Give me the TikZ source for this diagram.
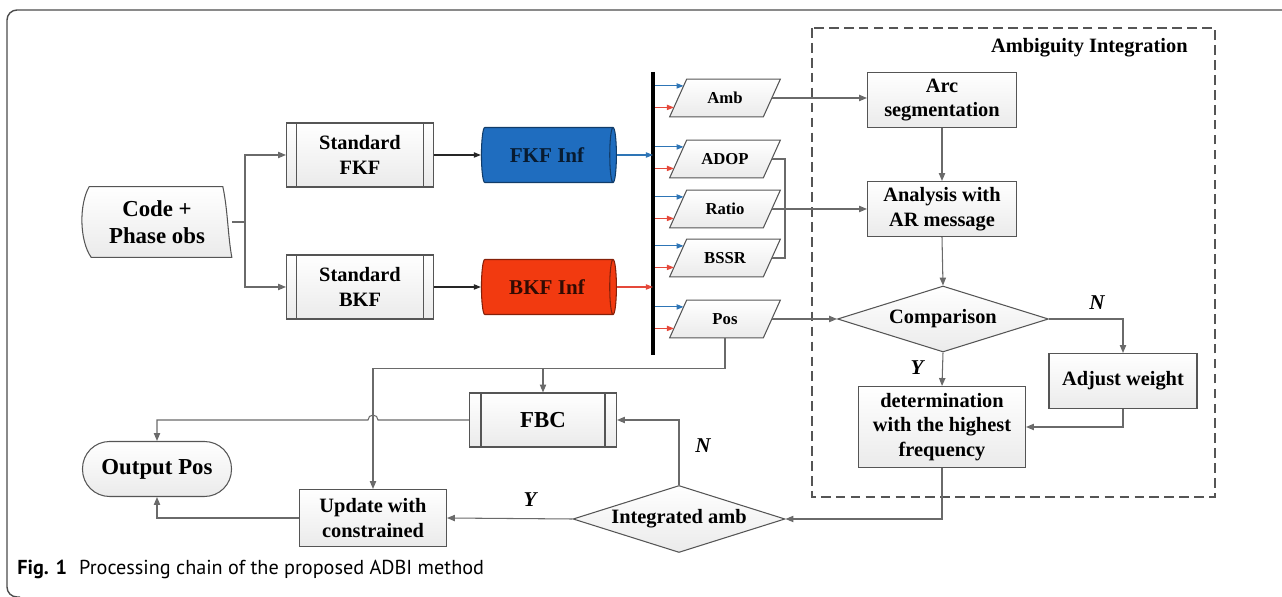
\documentclass[tikz,border=0pt]{standalone}
\usepackage{fontspec}
\setmainfont{Liberation Serif}
\newfontfamily\capfont{PT Sans}
\usetikzlibrary{shapes.geometric,arrows.meta,calc}
\pgfdeclarelayer{background}
\pgfsetlayers{background,main}
\definecolor{lc}{HTML}{6A6A6A}
\definecolor{bc}{HTML}{555555}
\definecolor{fblue}{HTML}{1F6DBF}
\definecolor{fred}{HTML}{F23A10}
\definecolor{ablue}{HTML}{2E75B6}
\definecolor{ared}{HTML}{E5483A}
\begin{document}
\begin{tikzpicture}[x=0.02cm,y=-0.02cm,
  every node/.style={font=\bfseries\fontsize{11.6}{14}\selectfont, align=center, text=black, inner sep=0pt},
  big/.style={font=\bfseries\fontsize{13}{15.5}\selectfont},
  small/.style={font=\bfseries\fontsize{9.5}{11}\selectfont},
  box/.style={draw=bc, line width=0.6pt, top color=white, bottom color=gray!16},
  predef/.style={box, path picture={
     \draw[bc, line width=0.6pt] ([xshift=#1]path picture bounding box.north west) -- ([xshift=#1]path picture bounding box.south west);
     \draw[bc, line width=0.6pt] ([xshift=-#1]path picture bounding box.north east) -- ([xshift=-#1]path picture bounding box.south east);}},
  predef/.default=0.2cm,
  para/.style={rectangle, minimum width=2.2cm, minimum height=0.74cm, small},
  cyl/.style={cylinder, shape border rotate=0, aspect=0.45, minimum width=1.1cm, minimum height=2.7cm, cylinder uses custom fill, line width=0.6pt, font=\bfseries\fontsize{12}{14}\selectfont},
  ln/.style={draw=lc, line width=0.6pt},
  arr/.style={ln, -{Triangle[length=4.5pt,width=3.6pt]}},
  barr/.style={line width=0.6pt, -{Triangle[length=4pt,width=3pt]}},
  yn/.style={font=\bfseries\itshape\fontsize{12}{14}\selectfont}
]
\useasboundingbox (0,0) rectangle (1282,597);
% outer frame
\draw[black!70, line width=0.8pt, rounded corners=0.2cm] (1290,10) -- (7,10) -- (7,597) -- (20,597);

% dashed group
\draw[bc, line width=0.7pt, dash pattern=on 5.5pt off 3pt] (812,28) rectangle (1215,497);
\node[anchor=east] (ai) at (1188,48) {Ambiguity Integration};

% left part
\node[minimum width=2.98cm, minimum height=1.4cm] (code) at (157,222) {};
\path[box] ($(code.north west)+(7,0)$) -- ($(code.north east)+(-9,0)$)
   .. controls ($(code.east)+(-4,-12)$) and ($(code.east)+(-4,14)$) .. (code.south east)
   -- ($(code.south west)+(9,0)$)
   .. controls ($(code.west)+(-3,18)$) and ($(code.west)+(-3,-18)$) .. ($(code.north west)+(7,0)$) -- cycle;
\node[big] at (code.center) {Code +\\Phase obs};

\node[predef, minimum width=2.94cm, minimum height=1.28cm] (fkf) at (360,155) {Standard\\FKF};
\node[predef, minimum width=2.94cm, minimum height=1.28cm] (bkf) at (360,287) {Standard\\BKF};

\node[cyl, draw=fblue!55!black, cylinder body fill=fblue, cylinder end fill=fblue, text=black!75!fblue] (fkfi) at (547,155) {FKF Inf};
\node[cyl, draw=fred!55!black, cylinder body fill=fred, cylinder end fill=fred, text=black!80!fred] (bkfi) at (547,287) {BKF Inf};

% bus
\coordinate (bt) at (653,72);
\coordinate (bb) at (653,355);
\draw[black, line width=2.2pt] (bt) -- (bb);

% parallelograms
\node[para] (amb) at (725,98) {Amb};
\node[para] (adop) at (725,159) {ADOP};
\node[para] (ratio) at (725,209) {Ratio};
\node[para] (bssr) at (725,258) {BSSR};
\node[para] (pos) at (725,319) {Pos};

\foreach \p in {amb,adop,ratio,bssr,pos}{
  \coordinate (\p-bl) at (\p.south west);
  \coordinate (\p-tl) at ($(\p.north west)+(17,0)$);
  \coordinate (\p-tr) at (\p.north east);
  \coordinate (\p-br) at ($(\p.south east)+(-17,0)$);
  \coordinate (\p-e) at ($(\p-tr)!0.5!(\p-br)$);
  \begin{pgfonlayer}{background}
    \path[box] (\p-bl) -- (\p-tl) -- (\p-tr) -- (\p-br) -- cycle;
  \end{pgfonlayer}
  \coordinate (\p-b) at ($(\p-bl)!0.82!(\p-tl)$);
  \coordinate (\p-r) at ($(\p-bl)!0.25!(\p-tl)$);
  \draw[barr, ablue] ($(bt |- \p-b)+(2,0)$) -- (\p-b);
  \draw[barr, ared] ($(bt |- \p-r)+(2,0)$) -- (\p-r);
}

% right group nodes
\node[box, minimum width=2.98cm, minimum height=1.1cm] (arc) at (942,100) {Arc\\segmentation};
\node[box, minimum width=2.98cm, minimum height=1.1cm] (ana) at (942,209) {Analysis with\\AR message};
\node[box, diamond, aspect=3.2, minimum width=4.22cm, minimum height=1.32cm] (comp) at (943,319) {Comparison};
\node[box, minimum width=2.96cm, minimum height=1.1cm] (adj) at (1123,381) {Adjust weight};
\node[box, minimum width=3.34cm, minimum height=1.62cm] (det) at (942,427) {determination\\with the highest\\frequency};

% bottom nodes
\node[box, diamond, aspect=3.2, minimum width=4.24cm, minimum height=1.34cm] (ia) at (679,519) {Integrated amb};
\node[predef=0.23cm, minimum width=2.94cm, minimum height=1.08cm, big] (fbc) at (543,420) {FBC};
\node[box, minimum width=2.94cm, minimum height=1.14cm] (upd) at (373,518) {Update with\\constrained};
\node[box, rounded corners=0.54cm, minimum width=2.98cm, minimum height=1.1cm, big] (out) at (157,469) {Output Pos};

% connectors: left
\coordinate (sp) at (245,222);
\draw[ln] (code.east) -- (sp);
\draw[arr] (sp) |- (fkf.west);
\draw[arr] (sp) |- (bkf.west);
\draw[barr, black!85] (fkf.east) -- (fkfi.west);
\draw[barr, black!85] (bkf.east) -- (bkfi.west);
\draw[barr, ablue] (fkfi.east) -- (bt |- fkfi.east);
\draw[barr, ared] (bkfi.east) -- (bt |- bkfi.east);

% parallelograms to group
\draw[arr] (amb-e) -- (amb-e -| arc.west);
\draw[arr] (ratio-e) -- (ratio-e -| ana.west);
\draw[ln] (adop-e) -- (785,159) |- (bssr-e);
\draw[arr] (pos-e) -- (comp.west);

% inside group
\draw[arr] (arc.south) -- (ana.north);
\draw[arr] (ana.south) -- (comp.north);
\draw[arr] (comp.east) -| (adj.north);
\node[yn] (n1) at (1097,303) {N};
\draw[arr] (comp.south) -- (det.north);
\node[yn] (y1) at (917,368) {Y};
\draw[arr] (adj.south) |- (det.east);

% bottom loop
\draw[arr] (det.south) |- (ia.east);
\draw[arr] (ia.west) -- (upd.east);
\node[yn] (y2) at (530,500) {Y};
\draw[arr] (ia.north) |- (fbc.east);
\node[yn] (n2) at (703,446) {N};

\coordinate (pj) at ($(pos.south)+(0,31)$);
\draw[arr] (pos.south) -- (pj) -| (upd.north);
\draw[arr] (pj -| fbc.north) -- (fbc.north);
\draw[arr] (fbc.west) -- ($(upd.north |- fbc.west)+(5,0)$) arc[start angle=0, end angle=180, radius=0.1cm] -| (out.north);
\draw[arr] (upd.west) -| (out.south);

% caption
\node[anchor=base west, font=\capfont\fontsize{11.5}{13}\selectfont] (cap) at (17,575) {\textbf{Fig. 1}\hspace{0.6em}Processing chain of the proposed ADBI method};
\end{tikzpicture}
\end{document}
